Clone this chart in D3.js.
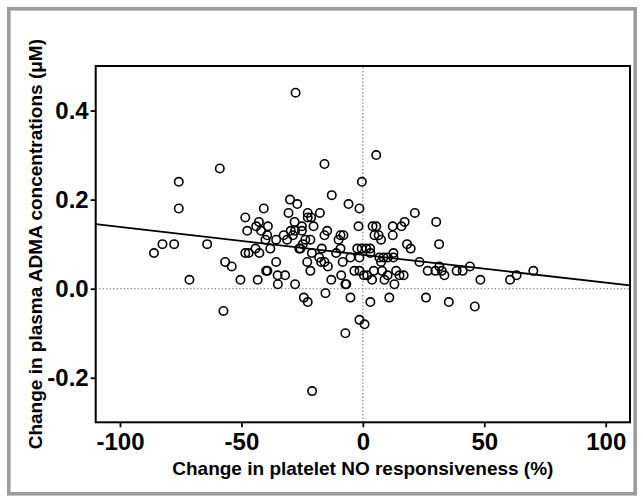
<!DOCTYPE html>
<html><head><meta charset="utf-8">
<script src="https://cdn.jsdelivr.net/npm/d3@7"></script>
<style>body{margin:0;background:#fff}svg{display:block}</style></head>
<body>
<svg id="c" width="643" height="500"></svg>
<script>
// Change in platelet NO responsiveness (%), grouped by ADMA level rows
const noChange = [
  -27.7, 5.5, -15.8, -58.9, -75.8, -0.4, -12.8, -30.0,
  -27.0, -5.9, -75.8, -1.4, -40.8,
  -30.6, -22.7, -17.7, 21.4,
  -22.7, -21.3, -48.4,
  -42.8, -28.1, 30.2, 17.2,
  -43.9, -39.1, -25.1, -20.3, -1.8, 4.0, 5.5, 12.3, 15.9,
  -47.6, -41.9, -29.7, -27.9, -25.1, -14.7,
  -39.4, -32.6, -28.8, -15.8, -9.2, -8.0, 4.8, 6.5, 12.3,
  -40.1, -35.7, -31.2, -23.7, -21.6, -10.0, 7.5,
  -82.5, -77.7, -64.1, -24.7, 18.2, 31.4,
  -44.2, -38.1, -26.2, -25.7, -16.9, -9.2, -2.3, -0.5, 1.4, 3.0, 19.7,
  -86.0, -48.4, -47.0, -42.6, -21.0, -11.0, 3.1, 12.6,
  -18.0, -5.1, -1.4, 6.8, 8.5, 10.2, 12.6,
  -56.7, -35.7, -22.9, -17.2, -15.8, -8.3, 7.5, 23.3,
  -54.0, -14.4, 31.5, 44.1,
  -39.3, -39.8, -21.6, -3.5, -1.4, 4.5, 7.9, 13.7, 26.7, 29.9, 32.5, 38.6, 41.1, 70.2,
  -35.1, -32.0, -8.9, 0.4, 1.8, 10.2, 15.1, 16.8, 33.6, 63.3,
  -71.4, -50.4, -43.3, -13.0, 3.8, 8.9, 48.4, 60.6,
  -35.0, -27.9, -7.2, -6.8, 13.0,
  -15.4, -24.3, -5.1, 10.9, 26.0, -22.7, 3.1, 35.4, 46.1, -57.4, -1.4, 0.7, -7.2, -20.9
];
// Change in plasma ADMA concentrations (uM)
const admaChange = [
  0.44, 0.30, 0.28, 0.27, 0.24, 0.24, 0.21, 0.20,
  0.19, 0.19, 0.18, 0.18, 0.18,
  0.17, 0.17, 0.17, 0.17,
  0.16, 0.16, 0.16,
  0.15, 0.15, 0.15, 0.15,
  0.14, 0.14, 0.14, 0.14, 0.14, 0.14, 0.14, 0.14, 0.14,
  0.13, 0.13, 0.13, 0.13, 0.13, 0.13,
  0.12, 0.12, 0.12, 0.12, 0.12, 0.12, 0.12, 0.12, 0.12,
  0.11, 0.11, 0.11, 0.11, 0.11, 0.11, 0.11,
  0.10, 0.10, 0.10, 0.10, 0.10, 0.10,
  0.09, 0.09, 0.09, 0.09, 0.09, 0.09, 0.09, 0.09, 0.09, 0.09, 0.09,
  0.08, 0.08, 0.08, 0.08, 0.08, 0.08, 0.08, 0.08,
  0.07, 0.07, 0.07, 0.07, 0.07, 0.07, 0.07,
  0.06, 0.06, 0.06, 0.06, 0.06, 0.06, 0.06, 0.06,
  0.05, 0.05, 0.05, 0.05,
  0.04, 0.04, 0.04, 0.04, 0.04, 0.04, 0.04, 0.04, 0.04, 0.04, 0.04, 0.04, 0.04, 0.04,
  0.03, 0.03, 0.03, 0.03, 0.03, 0.03, 0.03, 0.03, 0.03, 0.03,
  0.02, 0.02, 0.02, 0.02, 0.02, 0.02, 0.02, 0.02,
  0.01, 0.01, 0.01, 0.01, 0.01,
  -0.01, -0.02, -0.02, -0.02, -0.02, -0.03, -0.03, -0.03, -0.04, -0.05, -0.07, -0.08, -0.10, -0.23
];
const xTicks = [-100, -50, 0, 50, 100];
const yTicks = [-0.2, 0.0, 0.2, 0.4];
const xDomain = [-110, 110];
const yDomain = [-0.3, 0.5];
const fitIntercept = 0.076;
const fitSlope = -0.000625;
const xTitle = "Change in platelet NO responsiveness (%)";
const yTitle = "Change in plasma ADMA concentrations (\u03BCM)";

const FONT = "'Liberation Sans', Arial, Helvetica, sans-serif";
const svg = d3.select('#c');

// outer gray frame
svg.append('rect').attr('x', 8.8).attr('y', 8.8).attr('width', 626.4).attr('height', 485)
  .attr('fill', '#fff').attr('stroke', '#9c9c9c').attr('stroke-width', 3.6);

const L = 95.7, R = 630, T = 66, B = 422.3;
const x = d3.scaleLinear().domain(xDomain).range([L, R]);
const y = d3.scaleLinear().domain(yDomain).range([B, T]);

// zero reference lines (dotted)
svg.append('line').attr('x1', x(xDomain[0])).attr('x2', x(xDomain[1])).attr('y1', y(0)).attr('y2', y(0))
  .attr('stroke', '#6a6a6a').attr('stroke-width', 1.1).attr('stroke-dasharray', '1.3,2.2');
svg.append('line').attr('x1', x(0)).attr('x2', x(0)).attr('y1', y(yDomain[0])).attr('y2', y(yDomain[1]))
  .attr('stroke', '#6a6a6a').attr('stroke-width', 1.1).attr('stroke-dasharray', '1.3,2.2');

// points
const pts = d3.zip(noChange, admaChange);
svg.append('g').selectAll('circle').data(pts).join('circle')
  .attr('cx', d => x(d[0])).attr('cy', d => y(d[1])).attr('r', 4.2)
  .attr('fill', 'none').attr('stroke', '#000').attr('stroke-width', 1.6);

// regression line
svg.append('line')
  .attr('x1', x(xDomain[0])).attr('y1', y(fitIntercept + fitSlope * xDomain[0]))
  .attr('x2', x(xDomain[1])).attr('y2', y(fitIntercept + fitSlope * xDomain[1]))
  .attr('stroke', '#000').attr('stroke-width', 1.8);

// axes
const gx = svg.append('g').attr('transform', `translate(0,${B})`)
  .call(d3.axisBottom(x).tickValues(xTicks).tickSize(5).tickPadding(6).tickFormat(d => String(d)));
const gy = svg.append('g').attr('transform', `translate(${L},0)`)
  .call(d3.axisLeft(y).tickValues(yTicks).tickSize(5).tickPadding(2).tickFormat(d => d.toFixed(1)));
[gx, gy].forEach(g => {
  g.select('.domain').remove();
  g.selectAll('.tick line').attr('stroke', '#000').attr('stroke-width', 1.8);
  g.selectAll('.tick text').attr('fill', '#000').style('font-family', FONT)
    .style('font-size', '24px').style('font-weight', 'bold');
});

// plot frame
svg.append('rect').attr('x', L).attr('y', T).attr('width', R - L).attr('height', B - T)
  .attr('fill', 'none').attr('stroke', '#000').attr('stroke-width', 2);

// axis titles
svg.append('text').attr('x', (L + R) / 2).attr('y', 475).attr('text-anchor', 'middle')
  .style('font-family', FONT).style('font-size', '19px').style('font-weight', 'bold').text(xTitle);
svg.append('text').attr('transform', `translate(42,${(T + B) / 2}) rotate(-90)`).attr('text-anchor', 'middle')
  .style('font-family', FONT).style('font-size', '19px').style('font-weight', 'bold').text(yTitle);
</script>
</body></html>
